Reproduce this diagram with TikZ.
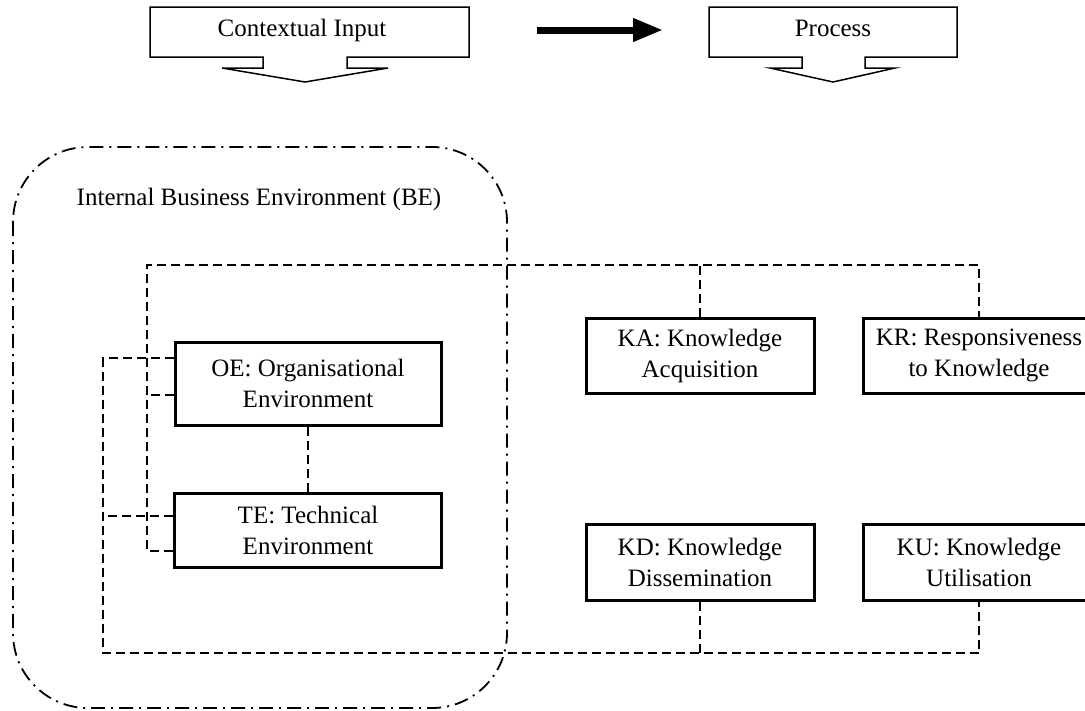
\documentclass[tikz,border=0pt]{standalone}
\usepackage{fontspec}
\setmainfont{Liberation Serif}
\usetikzlibrary{arrows.meta,calc}
\begin{document}
\begin{tikzpicture}[x=1pt,y=-1pt,
  every node/.style={font=\fontsize{25}{31}\selectfont},
  kbox/.style={draw, line width=3pt, align=center, inner sep=0pt},
  dsh/.style={line width=1.8pt, dash pattern=on 9pt off 5pt},
  bedash/.style={line width=1.8pt, dash pattern=on 14pt off 6pt on 2pt off 6pt},
  tabshape/.style={draw, line width=1.5pt, line join=miter},
  bigarrow/.style={line width=7pt, -{Triangle[length=30pt,width=22pt]}}
]
\useasboundingbox (0,0) rectangle (1085,710);

% top shapes
\draw[tabshape] (150,7) -- (469,7) -- (469,57) -- (347,57) -- (347,68) -- (388,68)
  -- (305,82) -- (222,68) -- (263,68) -- (263,57) -- (150,57) -- cycle;
\node[anchor=base] (ci) at (302,36) {Contextual Input};
\draw[tabshape] (709,7) -- (957,7) -- (957,57) -- (865,57) -- (865,68) -- (895,68)
  -- (833,82) -- (770,68) -- (802,68) -- (802,57) -- (709,57) -- cycle;
\node[anchor=base] (proc) at (833,36) {Process};
\coordinate (a1) at (537,30);
\coordinate (a2) at (663,30);
\draw[bigarrow] (a1) -- (a2);

% business environment
\draw[bedash, rounded corners=75pt] (13,147) rectangle (507,708);
\node[anchor=base] (be) at (259,205) {Internal Business Environment (BE)};

% boxes
\node[kbox, minimum width=266pt, minimum height=83pt] (OE) at (308,383.5) {OE: Organisational\\Environment};
\node[kbox, minimum width=267pt, minimum height=74pt] (TE) at (308,530) {TE: Technical\\Environment};
\node[kbox, minimum width=228pt, minimum height=75pt] (KA) at (700,355.5) {KA: Knowledge\\Acquisition};
\node[kbox, minimum width=232pt, minimum height=75pt] (KR) at (979,355.5) {KR: Responsiveness\\to Knowledge};
\node[kbox, minimum width=228pt, minimum height=76pt] (KD) at (700,562) {KD: Knowledge\\Dissemination};
\node[kbox, minimum width=232pt, minimum height=76pt] (KU) at (979,562) {KU: Knowledge\\Utilisation};

\coordinate (tl) at (147,265);
\coordinate (bl) at (103,653);

% connectors
\draw[dsh] (TE.west |- 0,551) -| (tl) -| (KR.north);
\draw[dsh] (KA.north) -- (KA.north |- tl);
\draw[dsh] (OE.west |- 0,395) -- (tl |- 0,395);
\draw[dsh] (OE.west |- 0,358) -| (bl) -| (KU.south);
\draw[dsh] (KD.south) -- (KD.south |- bl);
\draw[dsh] (TE.west |- 0,516) -- (bl |- 0,516);
\draw[dsh] (OE.south) -- (TE.north);
\end{tikzpicture}
\end{document}
